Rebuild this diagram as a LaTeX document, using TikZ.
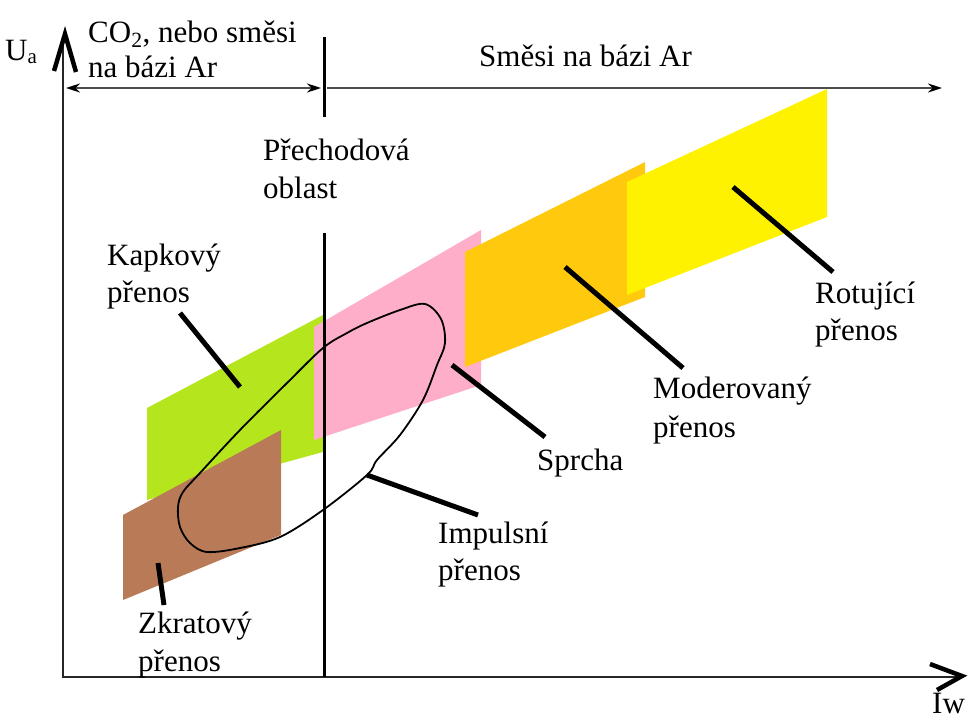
\documentclass[tikz,border=0pt]{standalone}
\usepackage{fontspec}
\setmainfont{Liberation Serif}
\usetikzlibrary{arrows.meta}
\definecolor{cgreen}{RGB}{181,230,29}
\definecolor{cbrown}{RGB}{185,122,87}
\definecolor{cpink}{RGB}{255,174,201}
\definecolor{corange}{RGB}{255,201,14}
\definecolor{cyellow}{RGB}{255,242,0}
\begin{document}
\begin{tikzpicture}[x=1pt,y=-1pt,
  lbl/.style={anchor=base west, inner sep=0pt, font=\fontsize{31}{38}\selectfont},
  leaderline/.style={line width=5pt},
  axisline/.style={line width=2.5pt, black!85},
  chevline/.style={line width=4.5pt, line join=miter},
  dividerline/.style={line width=3pt},
  rangeline/.style={line width=2pt, black!70},
  looppath/.style={line width=1.8pt}
]
\useasboundingbox (0,0) rectangle (968,718);
% regions
\fill[cgreen] (147,408) -- (323,315) -- (323,452) -- (147,500) -- cycle;
\fill[cbrown] (123,515) -- (281,430) -- (281,535) -- (123,600) -- cycle;
\fill[cpink] (314,327) -- (481,230) -- (481,385) -- (314,440) -- cycle;
\fill[corange] (465,252) -- (645,162) -- (645,297) -- (465,367) -- cycle;
\fill[cyellow] (627,182) -- (827,89) -- (827,217) -- (627,295) -- cycle;
% axes
\coordinate (ytop) at (63,40);
\coordinate (orig) at (63,677);
\coordinate (xend) at (960,677);
\draw[axisline] (ytop) -- (orig) -- (xend);
\draw[chevline] (54,71) -- (65,34) -- (76,72);
\draw[chevline] (930,664) -- (962,676) -- (937,690);
% dividers
\coordinate (d1a) at (324,37);
\coordinate (d1b) at (324,117);
\coordinate (d2a) at (324,233);
\coordinate (d2b) at (324,677);
\draw[dividerline] (d1a) -- (d1b);
\draw[dividerline] (d2a) -- (d2b);
% ranges
\coordinate (r1a) at (66,88);
\coordinate (r1b) at (321,88);
\coordinate (r2a) at (327,88);
\coordinate (r2b) at (942,88);
\draw[rangeline, {Stealth[length=14pt,width=9pt,black]}-{Stealth[length=14pt,width=9pt,black]}] (r1a) -- (r1b);
\draw[rangeline, -{Stealth[length=14pt,width=9pt,black]}] (r2a) -- (r2b);
% loop (impulse transfer)
\draw[looppath] plot[smooth cycle, tension=0.55] coordinates {
  (425,304) (441,319) (445,343) (437,365) (423,400) (400,435) (377,460)
  (367,475) (323,510) (280,537) (240,548) (207,552) (190,543) (180,527)
  (178,507) (183,492) (200,473) (240,430) (287,383) (323,348) (347,333)
  (367,323) (400,310)};
% labels
\node[lbl] (ua) at (5,60) {U\raisebox{-3pt}{\fontsize{21}{21}\selectfont a}};
\node[lbl] (co2a) at (88,42) {CO\textsubscript{2}, nebo směsi};
\node[lbl] (co2b) at (88,77) {na bázi Ar};
\node[lbl] (ar) at (479,66) {Směsi na bázi Ar};
\node[lbl] (prea) at (263,160) {Přechodová};
\node[lbl] (preb) at (263,198) {oblast};
\node[lbl] (kapa) at (107,265) {Kapkový};
\node[lbl] (kapb) at (107,302) {přenos};
\node[lbl] (rota) at (815,303) {Rotující};
\node[lbl] (rotb) at (815,340) {přenos};
\node[lbl] (moda) at (653,398) {Moderovaný};
\node[lbl] (modb) at (653,437) {přenos};
\node[lbl] (spr) at (537,470) {Sprcha};
\node[lbl] (impa) at (438,543) {Impulsní};
\node[lbl] (impb) at (438,580) {přenos};
\node[lbl] (zkra) at (138,633) {Zkratový};
\node[lbl] (zkrb) at (138,671) {přenos};
\node[lbl] (iw) at (932,713) {Iw};
% leader lines
\coordinate (kap1) at (180,313); \coordinate (kap2) at (240,387);
\coordinate (zkr1) at (158,563); \coordinate (zkr2) at (164,605);
\coordinate (spr1) at (452,365); \coordinate (spr2) at (545,437);
\coordinate (imp1) at (367,475); \coordinate (imp2) at (478,515);
\coordinate (mod1) at (565,267); \coordinate (mod2) at (683,368);
\coordinate (rot1) at (733,187); \coordinate (rot2) at (833,272);
\draw[leaderline] (kap1) -- (kap2);
\draw[leaderline] (zkr1) -- (zkr2);
\draw[leaderline] (spr1) -- (spr2);
\draw[leaderline] (imp1) -- (imp2);
\draw[leaderline] (mod1) -- (mod2);
\draw[leaderline] (rot1) -- (rot2);
\end{tikzpicture}
\end{document}
